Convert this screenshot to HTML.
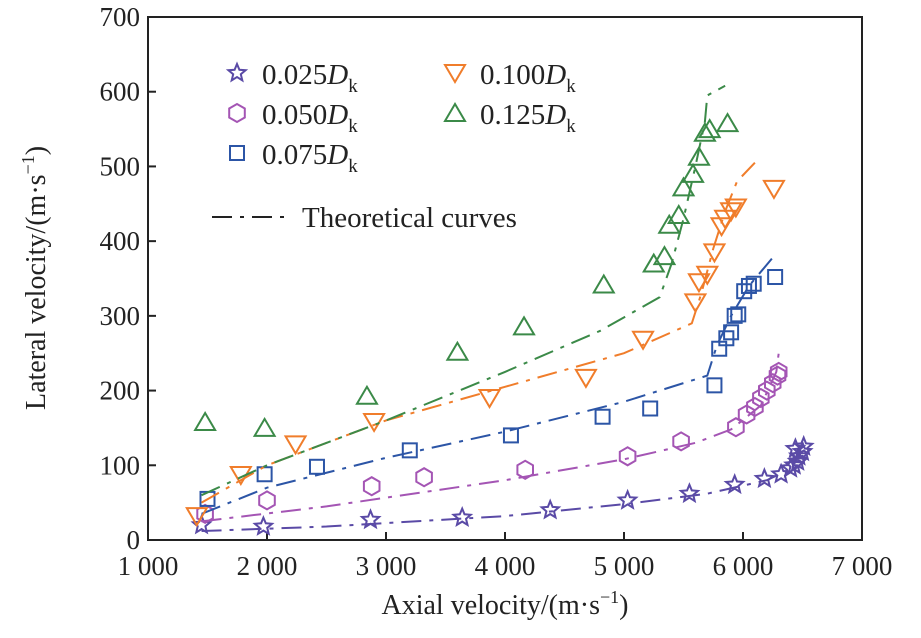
<!DOCTYPE html>
<html><head><meta charset="utf-8"><style>
body{margin:0;background:#fff}
svg text{font-family:"Liberation Serif",serif;fill:#222}
</style></head><body>
<svg id="c" width="921" height="633" xmlns="http://www.w3.org/2000/svg"></svg>
<script>
const xTicks=[1000,2000,3000,4000,5000,6000,7000];
const xTickLabels=["1 000","2 000","3 000","4 000","5 000","6 000","7 000"];
const yTicks=[0,100,200,300,400,500,600,700];
const s025x=[1450,1970,2870,3640,4380,5030,5550,5930,6180,6320,6400,6430,6460,6470,6440,6500,6510];
const s025y=[20,18,27,30,40,53,62,74,82,88,96,100,105,112,122,118,125];
const t025x=[1450,2500,4000,5000,5700,6200,6400,6500];
const t025y=[12,18,32,48,62,80,95,128];
const s050x=[1480,2000,2880,3320,4170,5030,5480,5940,6030,6100,6150,6200,6250,6290,6300];
const s050y=[35,53,72,84,94,112,132,151,168,178,190,200,210,220,225];
const t050x=[1450,2500,4000,5000,5600,5900,6150,6280,6300];
const t050y=[25,45,80,108,130,148,180,225,250];
const s075x=[1500,1980,2420,3200,4050,4820,5220,5760,5800,5860,5900,5930,5960,6010,6050,6090,6270];
const s075y=[55,88,98,120,140,165,176,207,256,270,278,300,302,333,340,343,352];
const t075x=[1450,2000,3000,4000,5000,5700,5780,5900,6050,6250];
const t075y=[35,70,110,145,185,220,260,300,340,378];
const s100x=[1410,1780,2240,2900,3870,4680,5160,5600,5630,5700,5760,5820,5850,5900,5940,6260];
const s100y=[32,87,128,158,190,217,268,318,345,355,385,420,430,440,445,470];
const t100x=[1450,2000,3000,4000,5000,5570,5650,5750,5850,5950,6100];
const t100y=[50,100,160,205,250,290,330,390,440,480,505];
const s125x=[1480,1980,2840,3600,4160,4830,5250,5340,5380,5460,5500,5580,5630,5680,5720,5870];
const s125y=[158,150,193,252,286,342,370,380,422,435,472,490,513,545,550,558];
const t125x=[1450,2000,3000,4000,4800,5300,5400,5500,5600,5680,5700,5850];
const t125y=[60,100,160,225,280,325,370,430,500,560,595,608];
const colors=["#5a4aa6","#a455b4","#2c55a6","#f07d2b","#3b8a48"];
const series=[[s025x,s025y,t025x,t025y,"star","0.025"],[s050x,s050y,t050x,t050y,"hex","0.050"],[s075x,s075y,t075x,t075y,"sq","0.075"],[s100x,s100y,t100x,t100y,"tdown","0.100"],[s125x,s125y,t125x,t125y,"tup","0.125"]];
const L=148,R=862,T=17,B=540;
const X=v=>L+(v-1000)/6000*(R-L);
const Y=v=>B-v/700*(B-T);
const svg=document.getElementById('c');const NS="http://www.w3.org/2000/svg";
function mk(t,a,p){const e=document.createElementNS(NS,t);for(const k in a)e.setAttribute(k,a[k]);(p||svg).appendChild(e);return e;}
const frame=mk('rect',{x:L,y:T,width:R-L,height:B-T,fill:'none',stroke:'#222','stroke-width':2});


xTicks.forEach((v,i)=>{const l=mk('line',{x1:X(v),x2:X(v),y1:B,y2:B-8,stroke:'#222','stroke-width':2});


const t=mk('text',{x:X(v),y:B+35,'text-anchor':'middle','font-size':27});t.textContent=xTickLabels[i];

});
yTicks.forEach(v=>{const l=mk('line',{x1:L,x2:L+8,y1:Y(v),y2:Y(v),stroke:'#222','stroke-width':2});


const t=mk('text',{x:L-8,y:Y(v)+9,'text-anchor':'end','font-size':27});t.textContent=v;

});
function marker(type,cx,cy,c,p){const a={fill:'none',stroke:c,'stroke-width':2};let e;
if(type=='sq'){e=mk('rect',Object.assign({x:cx-7,y:cy-7,width:14,height:14},a),p);}
else if(type=='tup'){e=mk('polygon',Object.assign({points:`${cx},${cy-9} ${cx-10},${cy+8} ${cx+10},${cy+8}`},a),p);}
else if(type=='tdown'){e=mk('polygon',Object.assign({points:`${cx},${cy+9} ${cx-10},${cy-8} ${cx+10},${cy-8}`},a),p);}
else if(type=='hex'){let pts=[];for(let i=0;i<6;i++){const an=Math.PI/3*i+Math.PI/6;pts.push((cx+9*Math.cos(an)).toFixed(1)+','+(cy+9*Math.sin(an)).toFixed(1));}e=mk('polygon',Object.assign({points:pts.join(' ')},a),p);}
else {let pts=[];for(let i=0;i<10;i++){const r=i%2?4:9,an=-Math.PI/2+Math.PI/5*i;pts.push((cx+r*Math.cos(an)).toFixed(1)+','+(cy+r*Math.sin(an)).toFixed(1));}e=mk('polygon',Object.assign({points:pts.join(' ')},a),p);}
return e;}
series.forEach((s,k)=>{const c=colors[k];
const g=mk('g',{});

const pl=mk('polyline',{points:s[2].map((v,i)=>X(v)+','+Y(s[3][i])).join(' '),fill:'none',stroke:c,'stroke-width':2,'stroke-dasharray':'20,8,4,8'},g);


s[0].forEach((v,i)=>{const m=marker(s[4],X(v),Y(s[1][i]),c,g);

});});
const leg=[[0,0,0],[1,0,1],[2,0,2],[3,1,0],[4,1,1]];
leg.forEach(([k,col,row])=>{const lx=col?455:237,ly=73+row*40;
marker(series[k][4],lx,ly,colors[k]);
const t=mk('text',{x:lx+25,y:ly+11,'font-size':29});t.innerHTML=series[k][5]+'<tspan font-style="italic">D</tspan><tspan font-size="19" dy="8">k</tspan>';

});
const ll=mk('line',{x1:212,x2:292,y1:217,y2:217,stroke:'#222','stroke-width':2,'stroke-dasharray':'20,8,4,8'});


const lt=mk('text',{x:302,y:227,'font-size':29});lt.textContent='Theoretical curves';


const xt=mk('text',{x:505,y:614,'text-anchor':'middle','font-size':28});xt.innerHTML='Axial velocity/(m·s<tspan font-size="18" dy="-11">−1</tspan><tspan dy="11">)</tspan>';


const yt=mk('text',{x:0,y:0,'text-anchor':'middle','font-size':28,transform:'translate(45,278) rotate(-90)'});yt.innerHTML='Lateral velocity/(m·s<tspan font-size="18" dy="-11">−1</tspan><tspan dy="11">)</tspan>';


</script>
</body></html>
